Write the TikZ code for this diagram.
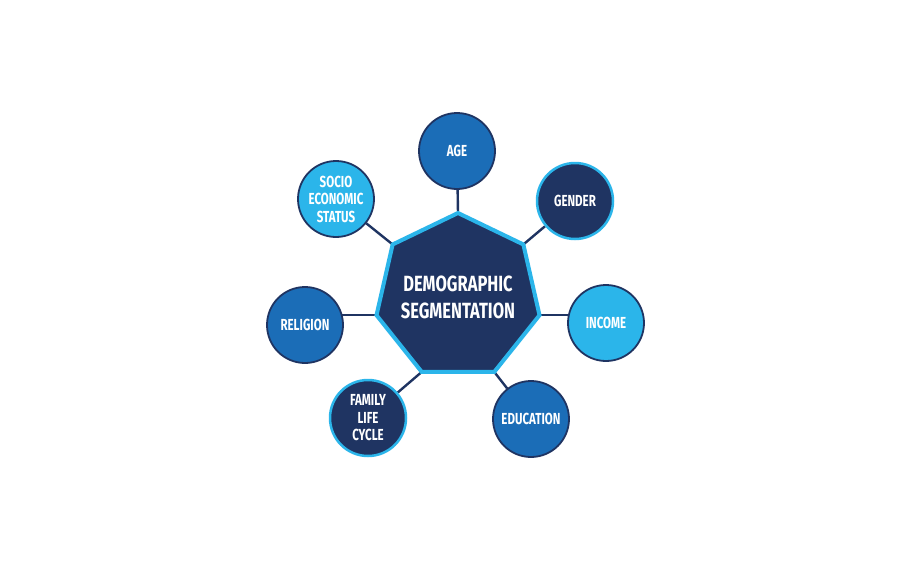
\documentclass[tikz,border=0pt]{standalone}
\usepackage{fontspec}
\newfontfamily\condfont[FakeStretch=0.72]{Fira Sans}
\newfontfamily\titlefont[FakeStretch=0.75]{Fira Sans}
\usetikzlibrary{backgrounds,calc}
\definecolor{navy}{HTML}{1F3462}
\definecolor{midblue}{HTML}{1B6DB7}
\definecolor{lightblue}{HTML}{2BB5EA}
\tikzset{
  bubble/.style={circle, minimum size=76pt, inner sep=0pt, align=center,
    text=white, font=\condfont\bfseries\fontsize{16}{17.5}\selectfont},
  bluebubble/.style={bubble, fill=midblue, draw=navy, line width=1.8pt},
  lightbubble/.style={bubble, fill=lightblue, draw=navy, line width=1.8pt},
  darkbubble/.style={bubble, fill=navy, draw=lightblue, line width=2.5pt},
  link/.style={draw=navy, line width=2.4pt},
  hept/.style={fill=navy, draw=lightblue, line width=4pt, line join=miter}
}
\begin{document}
\begin{tikzpicture}[x=1pt,y=-1pt]
\useasboundingbox (0,0) rectangle (916,573);
\coordinate (c) at (458,296.6);
\foreach \k in {0,...,6}{
  \coordinate (v\k) at ($(c)+({-90+\k*360/7}:83.6)$);
}
\draw[hept] (v0) -- (v1) -- (v2) -- (v3) -- (v4) -- (v5) -- (v6) -- cycle;
\node[align=center, text=white, font=\titlefont\bfseries\fontsize{22}{27}\selectfont] (title) at (458,297) {DEMOGRAPHIC\\SEGMENTATION};
\node[bluebubble] (age) at (457,151) {AGE};
\node[darkbubble] (gender) at (575,201) {GENDER};
\node[lightbubble] (income) at (606,323) {INCOME};
\node[bluebubble] (education) at (531,419) {EDUCATION};
\node[darkbubble] (family) at (368,418) {FAMILY\\LIFE\\CYCLE};
\node[bluebubble] (religion) at (305,325) {RELIGION};
\node[lightbubble] (socio) at (336,199) {SOCIO\\ECONOMIC\\STATUS};
\begin{pgfonlayer}{background}
\fill[white] (0,0) rectangle (916,573);
\draw[link] (v0) -- (age);
\draw[link] (v1) -- (gender);
\draw[link] (v2) -- (v2 -| income.center);
\draw[link] (v3) -- (education);
\draw[link] (v4) -- (family);
\draw[link] (v5) -- (v5 -| religion.center);
\draw[link] (v6) -- (socio);
\end{pgfonlayer}
\end{tikzpicture}
\end{document}
